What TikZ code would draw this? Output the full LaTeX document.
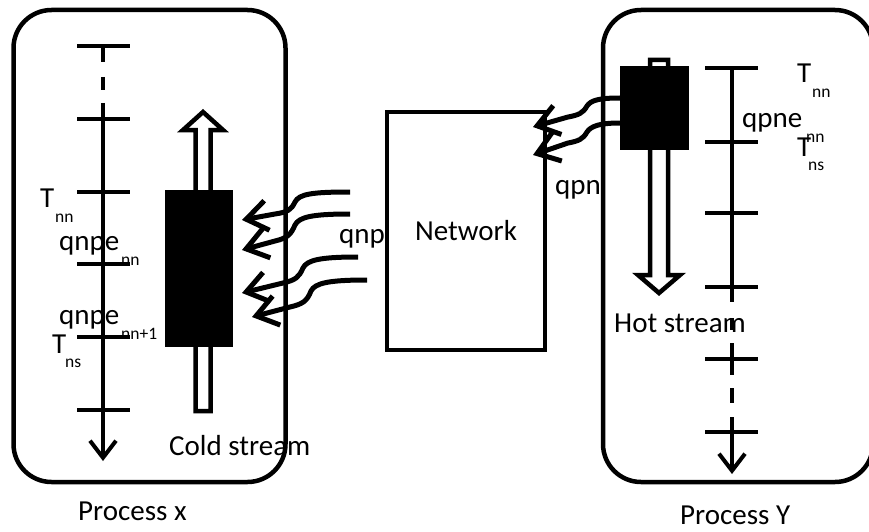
\documentclass[tikz,border=0pt]{standalone}
\usepackage{fontspec}
\setmainfont{Carlito}
\usetikzlibrary{arrows.meta}
\tikzset{
  frame/.style={line width=4.5pt, rounded corners=38pt},
  axisline/.style={line width=4pt},
  axisarrow/.style={line width=4pt, -{Straight Barb[length=17pt,width=26pt]}},
  tickline/.style={line width=4pt},
  heat/.style={line width=5pt, -{Straight Barb[length=21pt,width=30pt]}},
  lbl/.style={anchor=base west, inner sep=0pt, font=\fontsize{29}{33}\selectfont},
  sublbl/.style={anchor=base west, inner sep=0pt, font=\fontsize{17.5}{20}\selectfont},
  hollow/.style={line width=4.5pt, fill=white, line join=miter},
  block/.style={fill=black},
  netbox/.style={draw, line width=4.5pt, minimum width=158pt, minimum height=238pt, inner sep=0pt, font=\fontsize{29}{33}\selectfont}
}
\begin{document}
\begin{tikzpicture}[x=1pt,y=-1pt]
\clip (0,0) rectangle (869,532);
\fill[white] (0,0) rectangle (869,532);

% process frames
\draw[frame] (13.5,10) rectangle (285.5,482);
\draw[frame] (603,10) rectangle (873,482);

% network
\node[netbox] (net) at (466,231) {Network};

% ---------- Process x ----------
\foreach \yy in {46,119,192,264,337,410} \draw[tickline] (77,\yy) -- (130,\yy);
\draw[axisline] (103,46) -- (103,62);
\draw[axisline] (103,77) -- (103,90);
\draw[axisarrow] (103,103) -- (103,461);

% cold stream
\draw[hollow] (195.5,411) -- (195.5,130) -- (183,130) -- (203,112) -- (223,130) -- (210.5,130) -- (210.5,411) -- cycle;
\fill[block] (165,190) rectangle (233,347);

% ---------- Process Y ----------
\foreach \yy in {68,142,213,287,359,432} \draw[tickline] (705,\yy) -- (758,\yy);
\draw[axisline] (732,68) -- (732,302);
\draw[axisline] (732,318) -- (732,330);
\draw[axisline] (732,343) -- (732,375);
\draw[axisline] (732,388) -- (732,403);
\draw[axisarrow] (732,417) -- (732,474);

% hot stream
\draw[hollow] (650,60) -- (668,60) -- (668,275) -- (680,275) -- (659,293) -- (638,275) -- (650,275) -- cycle;
\fill[block] (620,66) rectangle (689,150);

% ---------- heat flows ----------
\coordinate (a1s) at (350,192); \coordinate (a1e) at (242,220);
\coordinate (a2s) at (350,214); \coordinate (a2e) at (242,250);
\coordinate (a3s) at (358,257); \coordinate (a3e) at (242,293);
\coordinate (a4s) at (367,280); \coordinate (a4e) at (252,317);
\draw[heat] (a1s) .. controls (312,192) and (299,194) .. (295,202) .. controls (291,210) and (288,212) .. (275,214) -- (a1e);
\draw[heat] (a2s) .. controls (312,214) and (299,217) .. (295,225) .. controls (291,234) and (288,238) .. (275,241) -- (a2e);
\draw[heat] (a3s) .. controls (320,257) and (307,260) .. (303,268) .. controls (299,277) and (296,280) .. (283,283) -- (a3e);
\draw[heat] (a4s) .. controls (329,280) and (315,283) .. (311,291) .. controls (307,301) and (303,304) .. (290,307) -- (a4e);

\coordinate (b1s) at (620,98); \coordinate (b1e) at (533,127);
\coordinate (b2s) at (620,123); \coordinate (b2e) at (533,155);
\draw[heat] (b1s) .. controls (600,98) and (591,100) .. (587,106) .. controls (583,113) and (579,115) .. (568,117) -- (b1e);
\draw[heat] (b2s) .. controls (600,123) and (591,126) .. (587,132) .. controls (583,139) and (579,141) .. (568,143) -- (b2e);

% ---------- labels ----------
\node[lbl] (tnnx) at (40,207) {T};
\node[sublbl] (tnnxs) at (55,222) {nn};
\node[lbl] (qx1) at (59,250) {qnpe};
\node[sublbl] (qx1s) at (121,265) {nn};
\node[lbl] (qx2) at (59,324) {qnpe};
\node[sublbl] (qx2s) at (121,339) {nn+1};
\node[lbl] (tnsx) at (52,353) {T};
\node[sublbl] (tnsxs) at (65,367) {ns};
\node[lbl] (cold) at (169,455) {Cold stream};
\node[lbl] (procx) at (78,520) {Process x};
\node[lbl] (qnp) at (339,243) {qnp};

\node[lbl] (qpn) at (555,194) {qpn};
\node[lbl] (tnny) at (797,83) {T};
\node[sublbl] (tnnys) at (812,98) {nn};
\node[lbl] (qy) at (742,128) {qpne};
\node[sublbl] (qys) at (806,142) {nn};
\node[lbl] (tnsy) at (797,156) {T};
\node[sublbl] (tnsys) at (808,170) {ns};
\node[lbl] (hot) at (614,332) {Hot stream};
\node[lbl] (procy) at (680,524) {Process Y};
\end{tikzpicture}
\end{document}
